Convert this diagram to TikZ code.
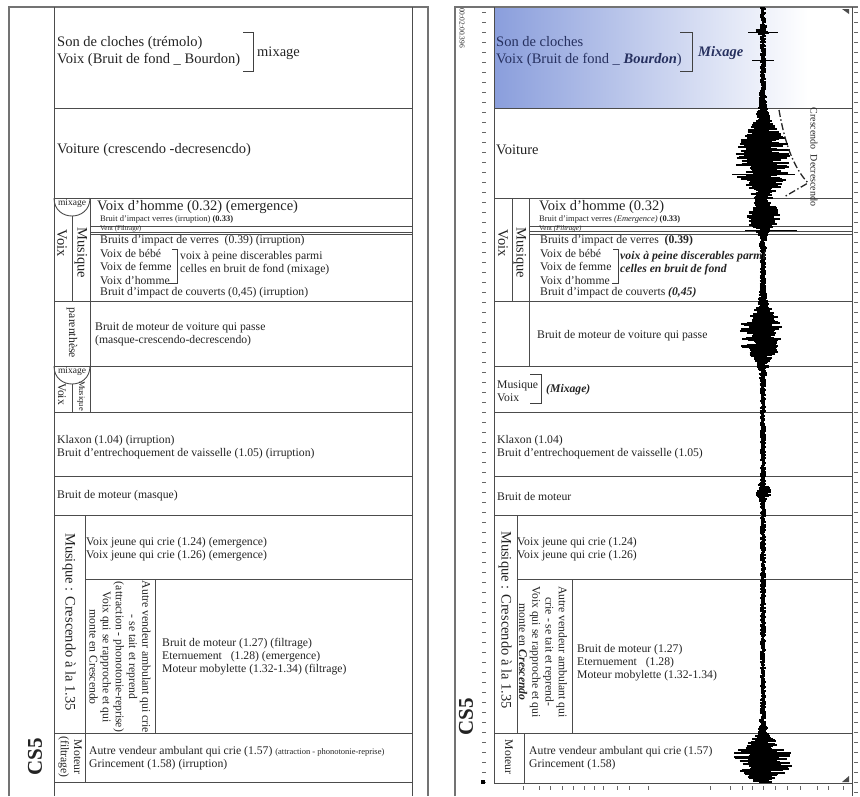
\documentclass[tikz,border=0pt]{standalone}
\usepackage{fontspec}
\setmainfont{Liberation Serif}
\usepackage{tikz}
\usetikzlibrary{calc}
\definecolor{skyband}{RGB}{138,158,220}
\definecolor{inkgrey}{RGB}{35,35,35}
\definecolor{navyink}{RGB}{38,48,95}
\newcommand\sizebig{\fontsize{14.5}{16.5}\selectfont}
\newcommand\sizemid{\fontsize{11.7}{13.2}\selectfont}
\newcommand\sizesmall{\fontsize{8.5}{9}\selectfont}
\newcommand\sizetiny{\fontsize{7}{7}\selectfont}
\tikzset{
  rowline/.style   = {draw=black!70, line width=0.9pt},
  frameline/.style = {draw=black!55, line width=1.8pt},
  bigtext/.style   = {anchor=west, inner sep=0pt, align=left, text=inkgrey, font=\sizebig},
  midtext/.style   = {anchor=west, inner sep=0pt, align=left, text=inkgrey, font=\sizemid},
  smalltext/.style = {anchor=west, inner sep=0pt, text=inkgrey, font=\sizesmall},
  sidetext/.style  = {rotate=-90, inner sep=0pt, align=center, text=inkgrey},
  bracket/.style   = {draw=black!75, line width=0.9pt},
  wave/.style      = {draw=black, line width=1.1pt},
  tickmark/.style  = {draw=black!60, line width=0.5pt},
  declare function = {bump(\pa,\pb,\pc)=1/(1+(min(abs(\pa-\pb)/\pc,10))^4);}
}

\begin{document}
\begin{tikzpicture}[x=1pt,y=-1pt]
  \useasboundingbox (0,0) rectangle (860,796);

  % ---------- left panel ----------
  \draw[frameline] (9,796) -- (9,7) -- (428,7) -- (428,796);
  \draw[rowline] (54,7) -- (54,796);
  \draw[rowline] (412,7) -- (412,796);
  \foreach \ry in {108,198,301,366,412,476,515,733,782}
    \draw[rowline] (54,\ry) -- (412,\ry);
  \foreach \ry in {226,232,234}
    \draw[rowline] (90,\ry) -- (412,\ry);
  \draw[rowline] (85,579) -- (412,579);
  \draw[rowline] (90,198) -- (90,412);
  \draw[rowline] (72,216) -- (72,301);
  \draw[rowline] (72,384) -- (72,412);
  \draw[rowline] (85,515) -- (85,782);
  \draw[rowline] (155,579) -- (155,733);
  \draw[rowline] (54,198) .. controls (54,222) and (90,222) .. (90,198);
  \draw[rowline] (54,366) .. controls (54,390) and (90,390) .. (90,366);

  \node[bigtext] (Lson) at (57,51.5) {Son de cloches (trémolo)\\Voix (Bruit de fond \_ Bourdon)};
  \draw[bracket] (243,32) -- (253,32) -- (253,71) -- (243,71);
  \node[bigtext] (Lmix) at (257,53) {mixage};
  \node[bigtext] (Lvoiture) at (57,150) {Voiture (crescendo -decresencdo)};
  \node[smalltext, anchor=center, font=\fontsize{9.5}{10}\selectfont] (Lmixa) at (72,203) {mixage};
  \node[bigtext] (Lhomme) at (97,207) {Voix d'homme (0.32) (emergence)};
  \node[smalltext] (Limpact) at (100,219.5) {Bruit d'impact verres (irruption) \textbf{(0.33)}};
  \node[smalltext, font=\sizetiny] (Lvent) at (100,229) {Vent (Filtrage)};
  \node[midtext] (Lverres) at (100,241) {Bruits d'impact de verres~~(0.39) (irruption)};
  \node[midtext] (Lvoix) at (100,267) {Voix de bébé\\Voix de femme\\Voix d'homme};
  \draw[bracket] (172,249) -- (177,249) -- (177,283) -- (168,283);
  \node[midtext] (Lnote) at (180,263.5) {voix à peine discerables parmi\\celles en bruit de fond (mixage)};
  \node[midtext] (Lcouverts) at (100,293) {Bruit d'impact de couverts (0,45) (irruption)};
  \node[sidetext, font=\sizebig] (LvoixA) at (62,243) {Voix};
  \node[sidetext, font=\sizebig] (LmusA) at (81,253) {Musique};
  \node[sidetext, font=\sizemid] (Lparen) at (72,333) {parenthèse};
  \node[midtext] (Lpasse) at (95,334.5) {Bruit de moteur de voiture qui passe\\(masque-crescendo-decrescendo)};
  \node[smalltext, anchor=center, font=\fontsize{9.5}{10}\selectfont] (Lmixb) at (72,371) {mixage};
  \node[sidetext, font=\sizemid] (LvoixB) at (62,394) {Voix};
  \node[sidetext, font=\sizesmall] (LmusB) at (81,396) {Musique};
  \node[midtext] (Lklaxon) at (57,447.5) {Klaxon (1.04) (irruption)\\Bruit d'entrechoquement de vaisselle (1.05) (irruption)};
  \node[midtext] (Lmoteur) at (57,496) {Bruit de moteur (masque)};
  \node[sidetext, font=\sizebig] (Lcresc) at (69,622) {Musique : Crescendo à la 1.35};
  \node[midtext] (Ljeune) at (86,549.5) {Voix jeune qui crie (1.24) (emergence)\\Voix jeune qui crie (1.26) (emergence)};
  \node[sidetext, font=\sizemid] (Lvendeur) at (120,657) {Autre vendeur ambulant qui crie\\- se tait et reprend\\(attraction - phonotonie-reprise)\\Voix qui se rapproche et qui\\monte en Crescendo};
  \node[midtext] (Lmoby) at (162,656.5) {Bruit de moteur (1.27) (filtrage)\\Eternuement~~~(1.28) (emergence)\\Moteur mobylette (1.32-1.34) (filtrage)};
  \node[sidetext, font=\sizemid] (Lfiltre) at (70,757) {Moteur\\(filtrage)};
  \node[midtext] (Lgrince) at (89,758.5) {Autre vendeur ambulant qui crie (1.57) {\sizesmall(attraction - phonotonie-reprise)}\\Grincement (1.58) (irruption)};
  \node[rotate=90, inner sep=0pt, font=\fontsize{21}{21}\selectfont\bfseries, text=inkgrey] (Lcs) at (35,757) {CS5};

  % ---------- right panel ----------
  \shade[left color=skyband, right color=white] (494,7) rectangle (808,108);
  \draw[frameline] (455,796) -- (455,7) -- (858,7);
  \draw[rowline] (494,7) -- (494,783);
  \draw[rowline] (852,7) -- (852,796);
  \foreach \ry in {108,198,301,366,412,476,515,733,783}
    \draw[rowline] (494,\ry) -- (852,\ry);
  \foreach \ry in {226,231.5,234}
    \draw[rowline] (529,\ry) -- (852,\ry);
  \draw[rowline] (517,579) -- (852,579);
  \draw[rowline] (512,198) -- (512,301);
  \draw[rowline] (529,198) -- (529,366);
  \draw[rowline] (517,515) -- (517,733);
  \draw[rowline] (572,579) -- (572,733);
  \draw[rowline] (524,733) -- (524,783);

  \foreach \ty in {12,22,...,782}
    \draw[tickmark] (482,\ty) -- (486,\ty);
  \foreach \ty in {12,22,...,792}
    \draw[tickmark] (854,\ty) -- (858,\ty);
  \foreach \tx in {523,539,550,562,573,584,594,603,617,629,648,710,730,742,752,763,775,787,800,817,828,843}
    \draw[tickmark] (\tx,786) -- (\tx,790);
  \fill[black] (481,780) rectangle (485,784);
  \fill[black!70] (842,9) -- (849,9) -- (849,14) -- cycle;
  \fill[black!70] (849,776) -- (849,782) -- (842,782) -- cycle;

  % waveform
  \pgfmathsetseed{17}
  \foreach \yy in {8,...,782}{
    \pgfmathsetmacro\wenv{2.5+21*bump(\yy,160,30)+11*bump(\yy,218,11)+18*bump(\yy,335,20)+22*bump(\yy,760,17)+4*bump(\yy,492,7)+4*bump(\yy,31,3)}
    \pgfmathsetmacro\wl{\wenv*(0.3+0.9*rnd)}
    \pgfmathsetmacro\wr{\wenv*(0.3+0.9*rnd)}
    \draw[wave] (763-\wl,\yy) -- (763+\wr,\yy);
  }
  \draw[wave, line width=0.6pt] (732,174) -- (795,174);
  \draw[wave, line width=0.6pt] (745,230) -- (797,230);
  \draw[wave, line width=0.6pt] (748,32) -- (778,32);
  \draw[wave, line width=0.6pt] (752,60) -- (774,60);
  \draw[black!85, line width=1.3pt, dash pattern=on 7pt off 2.5pt on 1.5pt off 2.5pt] (779,110) .. controls (786,150) and (796,170) .. (808,183) -- (784,197);

  \node[sidetext, font=\fontsize{7.5}{8}\selectfont] (Rtime) at (462,28) {00:02:00.396};
  \node[bigtext, text=navyink] (Rson) at (496,51.5) {Son de cloches\\Voix (Bruit de fond \_ \textbf{\textit{Bourdon}})};
  \draw[bracket] (680,32) -- (692,32) -- (692,71) -- (680,71);
  \node[bigtext, font=\sizebig\bfseries\itshape, text=navyink] (Rmix) at (698,53) {Mixage};
  \node[bigtext] (Rvoiture) at (496,150) {Voiture};
  \node[sidetext, font=\fontsize{10}{10}\selectfont] (Rcresc) at (814,157) {Crescendo~~Decrescendo};
  \node[bigtext] (Rhomme) at (539,207) {Voix d'homme (0.32)};
  \node[smalltext] (Rimpact) at (539,219.5) {Bruit d'impact verres \textit{(Emergence)} \textbf{(0.33)}};
  \node[smalltext, font=\sizetiny] (Rvent) at (539,229) {Vent \textit{(Filtrage)}};
  \node[midtext] (Rverres) at (540,241) {Bruits d'impact de verres~~\textbf{(0.39)}};
  \node[midtext] (Rvoix) at (540,267) {Voix de bébé\\Voix de femme\\Voix d'homme};
  \draw[bracket] (613,249) -- (618,249) -- (618,283) -- (612,283);
  \node[midtext, font=\sizemid\bfseries\itshape] (Rnote) at (620,263.5) {voix à peine discerables parmi\\celles en bruit de fond};
  \node[midtext] (Rcouverts) at (540,293) {Bruit d'impact de couverts \textbf{\textit{(0,45)}}};
  \node[sidetext, font=\sizebig] (RvoixA) at (503,243) {Voix};
  \node[sidetext, font=\sizebig] (RmusA) at (520,253) {Musique};
  \node[midtext] (Rpasse) at (537,336) {Bruit de moteur de voiture qui passe};
  \node[midtext] (Rmusvoix) at (497,391.5) {Musique\\Voix};
  \draw[bracket] (530,374) -- (541,374) -- (541,403) -- (530,403);
  \node[midtext, font=\sizemid\bfseries\itshape] (Rmixb) at (546,390) {(Mixage)};
  \node[midtext] (Rklaxon) at (497,447.5) {Klaxon (1.04)\\Bruit d'entrechoquement de vaisselle (1.05)};
  \node[midtext] (Rmoteur) at (497,496) {Bruit de moteur};
  \node[sidetext, font=\sizebig] (Rcrescb) at (505,620) {Musique : Crescendo à la 1.35};
  \node[midtext] (Rjeune) at (517,549.5) {Voix jeune qui crie (1.24)\\Voix jeune qui crie (1.26)};
  \node[sidetext, font=\sizemid] (Rvendeur) at (543,652) {Autre vendeur ambulant qui\\crie - se tait et reprend-\\Voix qui se rapproche et qui\\monte en \textbf{\textit{Crescendo}}};
  \node[midtext] (Rmoby) at (577,662.5) {Bruit de moteur (1.27)\\Eternuement~~~(1.28)\\Moteur mobylette (1.32-1.34)};
  \node[sidetext, font=\sizemid] (Rfiltre) at (509,757) {Moteur};
  \node[midtext] (Rgrince) at (529,758.5) {Autre vendeur ambulant qui crie (1.57)\\Grincement (1.58)};
  \node[rotate=90, inner sep=0pt, font=\fontsize{21}{21}\selectfont\bfseries, text=inkgrey] (Rcs) at (466,717) {CS5};
\end{tikzpicture}
\end{document}
